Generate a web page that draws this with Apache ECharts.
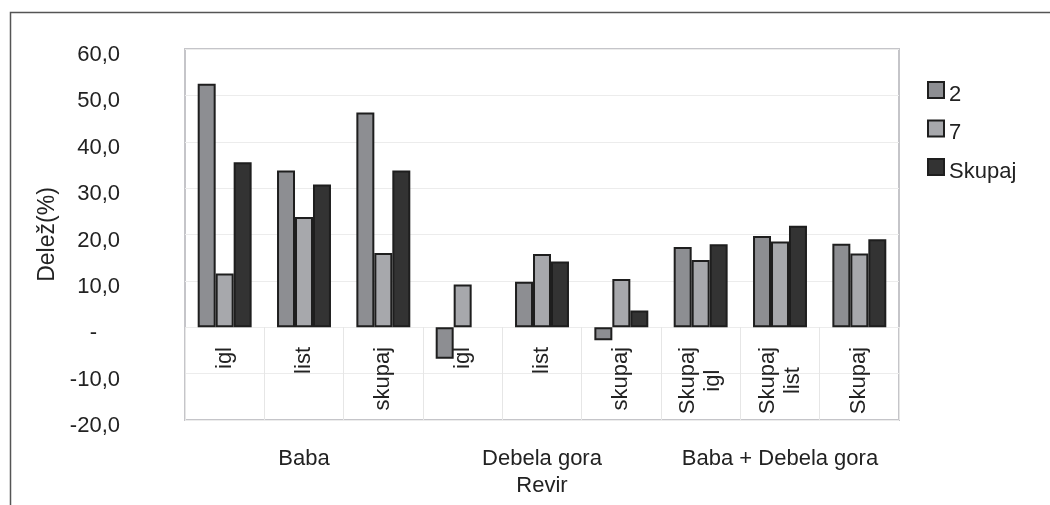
<!DOCTYPE html>
<html>
<head>
<meta charset="utf-8">
<script src="https://cdn.jsdelivr.net/npm/echarts@6/dist/echarts.min.js"></script>
<style>
  html, body { margin: 0; padding: 0; background: #fff; }
  #chart { width: 1050px; height: 505px; }
</style>
</head>
<body>
<div id="chart"></div>
<script>
// Categories (per site: needles, leaves, total) and their site groups
const categories = ['igl', 'list', 'skupaj', 'igl', 'list', 'skupaj', 'Skupaj\nigl', 'Skupaj\nlist', 'Skupaj'];
const groups = ['Baba', 'Debela gora', 'Baba + Debela gora'];
const seriesNames = ['2', '7', 'Skupaj'];

// Share (%) per category
const values2 = [52.5, 33.8, 46.3, -6.8, 9.8, -2.8, 17.3, 19.7, 18.0];
const values7 = [11.6, 23.8, 16.0, 9.2, 15.8, 10.4, 14.5, 18.5, 15.9];
const valuesSkupaj = [35.6, 30.8, 33.8, null, 14.2, 3.6, 17.9, 21.9, 19.0];

const yMin = -20, yMax = 60, yStep = 10;

const FONT = '"Liberation Sans", Arial, sans-serif';
const TEXT = '#222222';
const GRIDLINE = '#e6e6e6';
const colors = ['#8d8e92', '#a7a8ac', '#333333'];

function fmtY(v) {
  if (v === 0) return '{z|-}';
  return v.toFixed(1).replace('.', ',');
}

const chart = echarts.init(document.getElementById('chart'), null, { renderer: 'canvas' });

const barStyle = (c) => ({ color: c, borderColor: '#1e1e1e', borderWidth: 2 });

chart.setOption({
  backgroundColor: '#ffffff',
  animation: false,
  textStyle: { fontFamily: FONT, color: TEXT },
  graphic: [{
    type: 'rect',
    left: 8, top: 10,
    shape: { width: 1100, height: 600 },
    style: { fill: 'none', stroke: '#555555', lineWidth: 1.5 },
    silent: true
  }],
  grid: {
    left: 185, right: 151, top: 49, bottom: 85,
    containLabel: false,
    outerBoundsMode: 'none',
    show: true, borderColor: '#c5c5c9', borderWidth: 2
  },
  legend: {
    orient: 'vertical',
    left: 922, top: 76,
    itemWidth: 16, itemHeight: 16, itemGap: 14,
    icon: 'rect',
    formatter: (name) => '{t|' + name + '}',
    textStyle: {
      fontFamily: FONT, fontSize: 22, color: TEXT,
      rich: { t: { fontFamily: FONT, fontSize: 22, color: TEXT, padding: [9, 0, 0, 0] } }
    },
    data: seriesNames
  },
  xAxis: [{
    // rotated category labels, hung just below the zero line (inside the plot)
    type: 'category',
    data: categories,
    position: 'bottom',
    axisLine: { show: false, onZero: false },
    axisTick: { show: false },
    axisLabel: {
      interval: 0, rotate: 90, margin: -73,
      fontFamily: FONT, fontSize: 22, color: TEXT,
      formatter: (v) => '{c|' + v + '}',
      rich: { c: { align: 'center', fontFamily: FONT, fontSize: 22, color: TEXT, lineHeight: 25 } }
    },
    splitLine: { show: false }
  }, {
    // group labels along the bottom edge
    type: 'category',
    data: groups,
    position: 'bottom',
    axisLine: { show: false, onZero: false },
    axisTick: { show: false },
    axisLabel: { interval: 0, margin: 28, fontFamily: FONT, fontSize: 22, color: TEXT },
    name: 'Revir',
    nameLocation: 'middle',
    nameGap: 53,
    nameTextStyle: { fontFamily: FONT, fontSize: 22, color: TEXT }
  }, {
    // category separators below the zero line
    type: 'category',
    data: categories,
    position: 'bottom',
    axisLine: { show: false, onZero: false },
    axisTick: { show: true, inside: true, interval: 0, length: 93, lineStyle: { color: GRIDLINE, width: 1 } },
    axisLabel: { show: false }
  }],
  yAxis: {
    type: 'value',
    min: yMin, max: yMax, interval: yStep,
    name: 'Delež(%)',
    nameLocation: 'middle',
    nameGap: 123,
    nameTextStyle: { fontFamily: FONT, fontSize: 23, color: TEXT },
    axisLine: { show: false },
    axisTick: { show: false },
    axisLabel: {
      margin: 65, fontFamily: FONT, fontSize: 22, color: TEXT,
      padding: [12, 0, 0, 0],
      formatter: fmtY,
      rich: { z: { fontFamily: FONT, fontSize: 22, color: TEXT, padding: [0, 23, 0, 0] } }
    },
    splitLine: { show: true, lineStyle: { color: '#ececec', width: 1 } }
  },
  series: [
    { name: seriesNames[0], type: 'bar', data: values2, itemStyle: barStyle(colors[0]), barGap: '0%', barCategoryGap: '32%' },
    { name: seriesNames[1], type: 'bar', data: values7, itemStyle: barStyle(colors[1]), barGap: '0%', barCategoryGap: '32%' },
    { name: seriesNames[2], type: 'bar', data: valuesSkupaj, itemStyle: barStyle(colors[2]), barGap: '0%', barCategoryGap: '32%' }
  ]
});
</script>
</body>
</html>
